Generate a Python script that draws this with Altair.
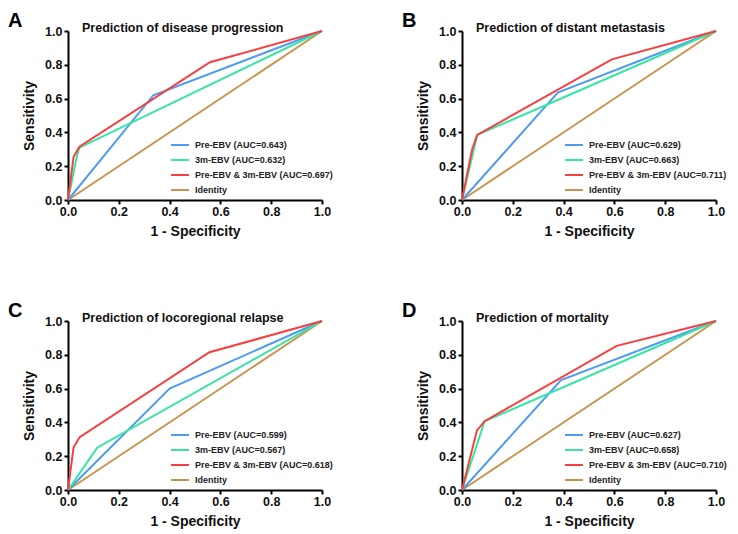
import altair as alt
import pandas as pd

# ---------------- data ----------------
series_names = ["Pre-EBV", "3m-EBV", "Pre-EBV & 3m-EBV", "Identity"]
series_colors = ["#4e9bf2", "#36e6a2", "#f83f3f", "#c9944f"]

panel_letters = ["A", "B", "C", "D"]
panel_titles = [
    "Prediction of disease progression",
    "Prediction of distant metastasis",
    "Prediction of locoregional relapse",
    "Prediction of mortality",
]
panel_auc = [
    [0.643, 0.632, 0.697],
    [0.629, 0.663, 0.711],
    [0.599, 0.567, 0.618],
    [0.627, 0.658, 0.710],
]

# ROC curve points (1 - specificity, sensitivity)
A_pre_x, A_pre_y = [0, 0.336, 1], [0, 0.62, 1]
A_3m_x, A_3m_y = [0, 0.035, 0.045, 1], [0, 0.26, 0.31, 1]
A_both_x, A_both_y = [0, 0.022, 0.045, 0.559, 1], [0, 0.256, 0.315, 0.815, 1]

B_pre_x, B_pre_y = [0, 0.377, 1], [0, 0.635, 1]
B_3m_x, B_3m_y = [0, 0.06, 1], [0, 0.385, 1]
B_both_x, B_both_y = [0, 0.04, 0.06, 0.59, 1], [0, 0.30, 0.385, 0.832, 1]

C_pre_x, C_pre_y = [0, 0.40, 1], [0, 0.60, 1]
C_3m_x, C_3m_y = [0, 0.115, 1], [0, 0.25, 1]
C_both_x, C_both_y = [0, 0.022, 0.046, 0.557, 1], [0, 0.253, 0.313, 0.815, 1]

D_pre_x, D_pre_y = [0, 0.39, 1], [0, 0.65, 1]
D_3m_x, D_3m_y = [0, 0.089, 1], [0, 0.407, 1]
D_both_x, D_both_y = [0, 0.059, 0.089, 0.609, 1], [0, 0.353, 0.407, 0.853, 1]

identity_x, identity_y = [0, 1], [0, 1]

tick_values = [0.0, 0.2, 0.4, 0.6, 0.8, 1.0]

panel_curves = [
    [(A_pre_x, A_pre_y), (A_3m_x, A_3m_y), (A_both_x, A_both_y)],
    [(B_pre_x, B_pre_y), (B_3m_x, B_3m_y), (B_both_x, B_both_y)],
    [(C_pre_x, C_pre_y), (C_3m_x, C_3m_y), (C_both_x, C_both_y)],
    [(D_pre_x, D_pre_y), (D_3m_x, D_3m_y), (D_both_x, D_both_y)],
]

FONT = "Liberation Sans, Arial, Helvetica, sans-serif"
W, H = 254, 169


def make_panel(i):
    labels = [f"{n} (AUC={a:.3f})" for n, a in zip(series_names[:3], panel_auc[i])] + ["Identity"]
    rows = []
    curves = [(identity_x, identity_y)] + panel_curves[i]
    lab_order = [labels[3], labels[0], labels[1], labels[2]]
    for k, ((xs, ys), lab) in enumerate(zip(curves, lab_order)):
        for j, (xv, yv) in enumerate(zip(xs, ys)):
            rows.append({"x": xv, "y": yv, "series": lab, "idx": j, "z": k})
    df = pd.DataFrame(rows)

    lines = alt.Chart(df).mark_line(strokeWidth=2, clip=False).encode(
        x=alt.X("x:Q", scale=alt.Scale(domain=[0, 1], nice=False, zero=False),
                axis=alt.Axis(values=tick_values, format=".1f", title="1 - Specificity",
                              labelFlush=False, labelPadding=1)),
        y=alt.Y("y:Q", scale=alt.Scale(domain=[0, 1], nice=False, zero=False),
                axis=alt.Axis(values=tick_values, format=".1f", title="Sensitivity",
                              labelFlush=False)),
        color=alt.Color("series:N",
                        scale=alt.Scale(domain=labels, range=series_colors),
                        legend=alt.Legend(orient="none", legendX=102, legendY=104,
                                          title=None, symbolType="stroke",
                                          symbolSize=324, symbolStrokeWidth=2,
                                          labelFont=FONT, labelFontSize=9,
                                          labelFontWeight="bold", labelColor="#222222",
                                          labelOffset=5, rowPadding=-4.1, padding=0,
                                          labelLimit=300)),
        detail="z:N",
        order="idx:Q",
    )

    letter = alt.Chart(pd.DataFrame({"t": [panel_letters[i]]})).mark_text(
        font=FONT, fontSize=20, fontWeight="bold", align="left", baseline="top", color="black"
    ).encode(text="t:N", x=alt.value(-60), y=alt.value(-20))

    title = alt.Chart(pd.DataFrame({"t": [panel_titles[i]]})).mark_text(
        font=FONT, fontSize=12.5, fontWeight="bold", align="left", baseline="middle", color="#111111"
    ).encode(text="t:N", x=alt.value(14), y=alt.value(-3))

    return alt.layer(lines, letter, title).properties(width=W, height=H).resolve_scale(color="independent")


pA, pB, pC, pD = [make_panel(i) for i in range(4)]

chart = alt.vconcat(
    alt.hconcat(pA, pB, spacing=69).resolve_scale(color="independent"),
    alt.hconcat(pC, pD, spacing=69).resolve_scale(color="independent"),
    spacing=62,
).resolve_scale(color="independent").properties(
    padding={"left": 0, "top": 3, "right": 0, "bottom": 0}
).configure_view(stroke=None).configure_axis(
    grid=False,
    domainColor="black", domainWidth=2,
    tickColor="black", tickWidth=2, tickSize=4,
    labelFont=FONT, labelFontSize=12.5, labelFontWeight="bold", labelColor="#111111", labelPadding=2,
    titleFont=FONT, titleFontSize=14, titleFontWeight="bold", titleColor="#111111",
).configure_axisX(titlePadding=7).configure_axisY(titlePadding=8)

chart.save("out.html", embed_options={"renderer": "svg", "actions": False})
